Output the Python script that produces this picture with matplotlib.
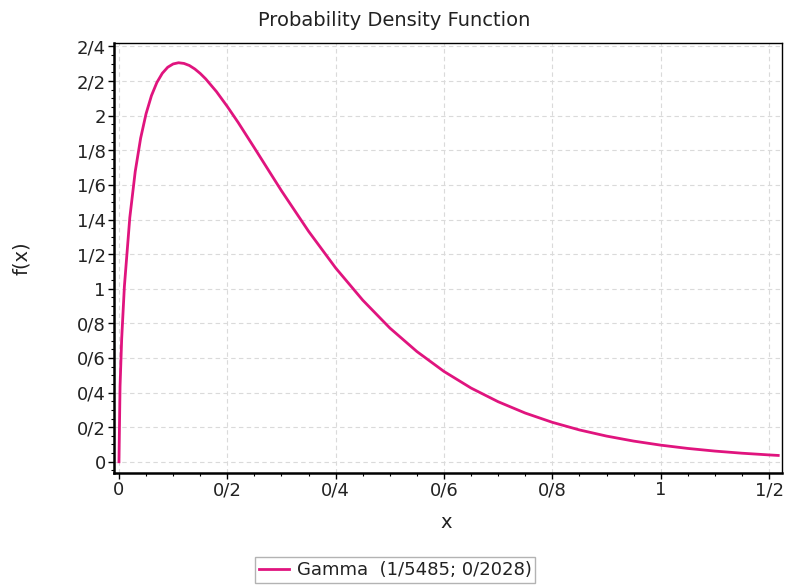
import matplotlib
matplotlib.use("Agg")
import matplotlib.pyplot as plt
from matplotlib.ticker import FixedLocator, MultipleLocator

plt.rcParams['font.family'] = ['DejaVu Sans']

# Curve points
x_vals = [0.0, 0.002, 0.005, 0.01, 0.02, 0.03, 0.04, 0.05, 0.06, 0.07, 0.08, 0.09,
          0.10, 0.11, 0.12, 0.13, 0.14, 0.15, 0.16, 0.18, 0.20, 0.22, 0.25, 0.28,
          0.30, 0.35, 0.40, 0.45, 0.50, 0.55, 0.60, 0.65, 0.70, 0.75, 0.80, 0.85,
          0.90, 0.95, 1.00, 1.05, 1.10, 1.15, 1.20, 1.217]
y_vals = [0.0, 0.436, 0.710, 1.013, 1.411, 1.677, 1.870, 2.011, 2.116, 2.192, 2.245, 2.280,
          2.299, 2.306, 2.302, 2.290, 2.270, 2.244, 2.213, 2.139, 2.053, 1.961, 1.814, 1.665,
          1.566, 1.332, 1.120, 0.934, 0.773, 0.637, 0.522, 0.426, 0.347, 0.2815, 0.228, 0.184,
          0.1485, 0.1196, 0.0961, 0.0771, 0.0618, 0.0495, 0.0396, 0.0366]

x_ticks = [0, 0.2, 0.4, 0.6, 0.8, 1.0, 1.2]
x_tick_labels = ["0", "0/2", "0/4", "0/6", "0/8", "1", "1/2"]
y_ticks = [0, 0.2, 0.4, 0.6, 0.8, 1.0, 1.2, 1.4, 1.6, 1.8, 2.0, 2.2, 2.4]
y_tick_labels = ["0", "0/2", "0/4", "0/6", "0/8", "1", "1/2", "1/4", "1/6", "1/8", "2", "2/2", "2/4"]
series_label = "Gamma  (1/5485; 0/2028)"

fig = plt.figure(figsize=(7.85, 5.86), dpi=100)
ax = fig.add_axes([0.1452, 0.1928, 0.851, 0.7338])

line, = ax.plot(x_vals, y_vals, color="#E0147E", lw=2.0, label=series_label)

ax.set_xlim(-0.0092, 1.224)
ax.set_ylim(-0.065, 2.42)

ax.xaxis.set_major_locator(FixedLocator(x_ticks))
ax.set_xticklabels(x_tick_labels)
ax.yaxis.set_major_locator(FixedLocator(y_ticks))
ax.set_yticklabels(y_tick_labels)
ax.xaxis.set_minor_locator(MultipleLocator(0.05))
ax.yaxis.set_minor_locator(MultipleLocator(0.05))

ax.tick_params(axis='both', which='major', direction='out', length=4, width=1,
               labelsize=13, colors='black', labelcolor='#222222', pad=2)
ax.tick_params(axis='both', which='minor', direction='out', length=2, width=0.8)

ax.grid(True, which='major', color='#DADADA', linestyle=(0, (4, 3)), linewidth=0.8)

for side in ['left', 'bottom']:
    ax.spines[side].set_linewidth(1.8)
    ax.spines[side].set_color('black')
for side in ['top', 'right']:
    ax.spines[side].set_linewidth(1.0)
    ax.spines[side].set_color('black')

fig.text(394 / 785, 1 - 20 / 586, "Probability Density Function",
         ha='center', va='center', fontsize=14, color='#222222')
fig.text(446 / 785, 1 - 523 / 586, "x", ha='center', va='center', fontsize=14, color='#222222')
fig.text(22 / 785, 1 - 258 / 586, "f(x)", ha='center', va='center', rotation=90,
         fontsize=14, color='#222222')

leg = fig.legend(handles=[line], loc='center', bbox_to_anchor=(395 / 785, 1 - 570 / 586),
                 frameon=True, fancybox=False, fontsize=13, handlelength=1.7,
                 borderpad=0.2, handletextpad=0.4, borderaxespad=0)
leg.get_frame().set_edgecolor('#A0A0A0')
leg.get_frame().set_linewidth(1.0)
for t in leg.get_texts():
    t.set_color('#222222')

fig.savefig("out.png", dpi=100)
